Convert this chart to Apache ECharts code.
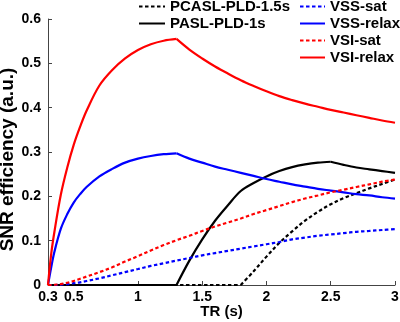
<!DOCTYPE html>
<html>
<head>
<meta charset="utf-8">
<script src="https://cdn.jsdelivr.net/npm/echarts@6/dist/echarts.min.js"></script>
<style>
  html, body { margin: 0; padding: 0; background: #fff; }
  #chart { width: 400px; height: 322px; }
</style>
</head>
<body>
<div id="chart"></div>
<script>
// TR values (s) shared by all curves
const tr = [0.3, 0.325, 0.35, 0.4, 0.45, 0.5, 0.55, 0.6, 0.7, 0.8, 0.9, 1.0, 1.1, 1.2, 1.3,
  1.4, 1.5, 1.6, 1.7, 1.8, 1.9, 2.0, 2.1, 2.2, 2.3, 2.4, 2.5, 2.6, 2.7, 2.8, 2.9, 3.0];

const pcasl = [0, 0, 0, 0, 0, 0, 0, 0, 0, 0, 0, 0, 0, 0, 0,
  0, 0, 0, 0, 0, 0.031, 0.064, 0.095, 0.121, 0.145, 0.165, 0.182, 0.196, 0.207, 0.218, 0.228, 0.238];
const pasl = [0, 0, 0, 0, 0, 0, 0, 0, 0, 0, 0, 0, 0, 0, 0,
  0.055, 0.103, 0.145, 0.180, 0.212, 0.230, 0.245, 0.257, 0.266, 0.272, 0.276, 0.278, 0.271, 0.265, 0.261, 0.257, 0.253];
const vssSat = [0, 0, 0, 0.001, 0.002, 0.004, 0.006, 0.009, 0.015, 0.022, 0.029, 0.036, 0.043, 0.049, 0.055,
  0.061, 0.067, 0.072, 0.077, 0.082, 0.087, 0.092, 0.097, 0.103, 0.107, 0.111, 0.114, 0.117, 0.120, 0.122, 0.124, 0.126];
const vssRelax = [0, 0.040, 0.075, 0.127, 0.160, 0.186, 0.205, 0.221, 0.245, 0.262, 0.276, 0.285, 0.291, 0.295, 0.297,
  0.285, 0.276, 0.267, 0.260, 0.253, 0.246, 0.239, 0.233, 0.227, 0.222, 0.217, 0.213, 0.209, 0.205, 0.202, 0.198, 0.195];
const vsiSat = [0, 0, 0.0005, 0.002, 0.005, 0.009, 0.014, 0.019, 0.029, 0.040, 0.053, 0.065, 0.078, 0.090, 0.101,
  0.111, 0.122, 0.132, 0.141, 0.150, 0.160, 0.169, 0.178, 0.187, 0.195, 0.202, 0.209, 0.215, 0.221, 0.227, 0.233, 0.238];
const vsiRelax = [0, 0.070, 0.120, 0.204, 0.265, 0.316, 0.357, 0.393, 0.450, 0.485, 0.511, 0.530, 0.543, 0.551, 0.555,
  0.531, 0.511, 0.493, 0.477, 0.462, 0.449, 0.437, 0.426, 0.417, 0.409, 0.402, 0.395, 0.389, 0.383, 0.377, 0.371, 0.366];

const xTicks = [0.3, 0.5, 1, 1.5, 2, 2.5, 3];

const font = "'Liberation Sans', Arial, sans-serif";
const dotted = [3.5, 2.5];

// one curve = several smoothed pieces, split at the sharp corners (TR values in breaks)
function curve(name, values, color, type, breaks) {
  const cuts = [0, ...breaks.map((b) => tr.indexOf(b)), tr.length - 1];
  const pieces = [];
  for (let k = 0; k < cuts.length - 1; k++) {
    const data = [];
    for (let i = cuts[k]; i <= cuts[k + 1]; i++) data.push([tr[i], values[i]]);
    pieces.push({
      name,
      type: "line",
      symbol: "none",
      smooth: 0.35,
      data,
      lineStyle: { color, width: 2.2, type },
      itemStyle: { color }
    });
  }
  return pieces;
}

const legendText = { fontFamily: font, fontWeight: "bold", fontSize: 15, lineHeight: 15, color: "#000" };

const chart = echarts.init(document.getElementById("chart"));
chart.setOption({
  animation: false,
  textStyle: { fontFamily: font },
  grid: { left: 48, right: 5, top: 19, bottom: 37, containLabel: false, outerBoundsMode: "none" },
  legend: [
    {
      data: ["PCASL-PLD-1.5s", "PASL-PLD-1s"],
      orient: "vertical",
      left: 138,
      top: -1,
      padding: 0,
      itemWidth: 26,
      itemHeight: 10,
      itemGap: 2,
      itemStyle: { opacity: 0 },
      textStyle: legendText
    },
    {
      data: ["VSS-sat", "VSS-relax", "VSI-sat", "VSI-relax"],
      orient: "vertical",
      left: 299,
      top: -1,
      padding: 0,
      itemWidth: 25,
      itemHeight: 10,
      itemGap: 2,
      itemStyle: { opacity: 0 },
      textStyle: legendText
    }
  ],
  xAxis: {
    type: "value",
    min: 0.3,
    max: 3,
    name: "TR (s)",
    nameLocation: "middle",
    nameGap: 19,
    nameMoveOverlap: false,
    nameTextStyle: { fontFamily: font, fontWeight: "bold", fontSize: 15, color: "#000" },
    axisLine: { lineStyle: { color: "#444", width: 1 } },
    axisTick: { inside: true, length: 4, customValues: xTicks, lineStyle: { color: "#444" } },
    axisLabel: {
      customValues: xTicks,
      margin: 5,
      fontFamily: font, fontWeight: "bold", fontSize: 14, color: "#000",
      formatter: (v) => String(v)
    },
    splitLine: { show: false }
  },
  yAxis: {
    type: "value",
    min: 0,
    max: 0.6,
    interval: 0.1,
    name: "SNR efficiency (a.u.)",
    nameLocation: "middle",
    nameGap: 31,
    nameMoveOverlap: false,
    nameTextStyle: { fontFamily: font, fontWeight: "bold", fontSize: 19, color: "#000", padding: [0, 15, 0, 0] },
    axisLine: { show: true, lineStyle: { color: "#444", width: 1 } },
    axisTick: { show: true, inside: true, length: 4, lineStyle: { color: "#444" } },
    axisLabel: {
      margin: 7,
      fontFamily: font, fontWeight: "bold", fontSize: 14, color: "#000",
      formatter: (v) => String(Math.round(v * 10) / 10)
    },
    splitLine: { show: false }
  },
  series: [
    ...curve("PCASL-PLD-1.5s", pcasl, "#000000", dotted, [1.8]),
    ...curve("PASL-PLD-1s", pasl, "#000000", "solid", [1.3, 2.5]),
    ...curve("VSS-sat", vssSat, "#0000ff", dotted, []),
    ...curve("VSS-relax", vssRelax, "#0000ff", "solid", [1.3]),
    ...curve("VSI-sat", vsiSat, "#ff0000", dotted, []),
    ...curve("VSI-relax", vsiRelax, "#ff0000", "solid", [1.3])
  ]
});
</script>
</body>
</html>
